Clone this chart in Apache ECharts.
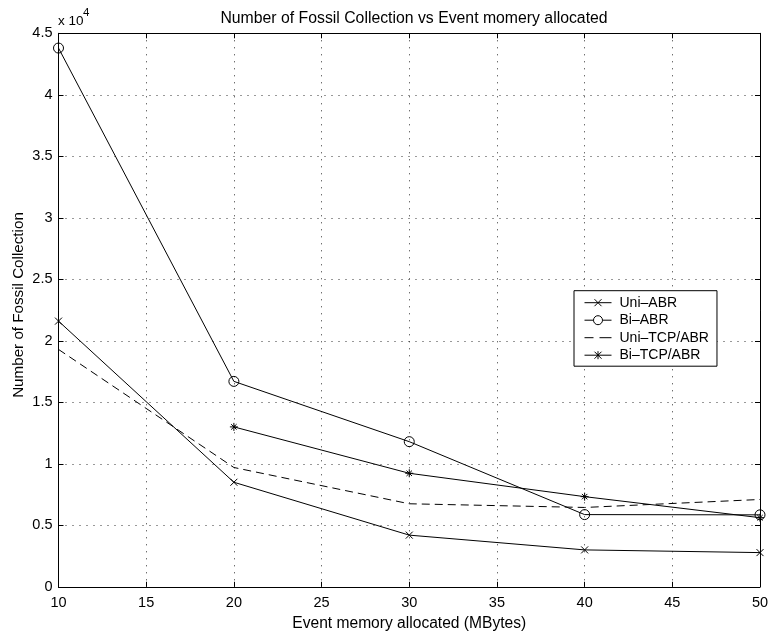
<!DOCTYPE html>
<html>
<head>
<meta charset="utf-8">
<script src="https://cdn.jsdelivr.net/npm/echarts@6/dist/echarts.min.js"></script>
<style>
  html, body { margin: 0; padding: 0; background: #fff; }
  #chart { width: 772px; height: 631px; }
</style>
</head>
<body>
<div id="chart"></div>
<script>
// Event memory allocated (MBytes)
const memory = [10, 20, 30, 40, 50];

// Number of fossil collections per configuration
const uniABR    = [21600, 8500, 4200, 3000, 2780];
const biABR     = [43800, 16700, 11800, 5870, 5850];
const uniTcpABR = [19300, 9700, 6750, 6450, 7100];
const biTcpABR  = [null, 13000, 9230, 7330, 5620];

const seriesNames = ['Uni–ABR', 'Bi–ABR', 'Uni–TCP/ABR', 'Bi–TCP/ABR'];

const xTicks = [10, 15, 20, 25, 30, 35, 40, 45, 50];
const yTicks = [0, 0.5, 1, 1.5, 2, 2.5, 3, 3.5, 4, 4.5]; // in units of 10^4

const FONT = 'Liberation Sans, Arial, Helvetica, sans-serif';

// Marker shapes (stroked outlines)
const crossSymbol = 'path://M0,0L10,10M10,0L0,10';
const starSymbol  = 'path://M5,0L5,10M0,5L10,5M1.6,1.6L8.4,8.4M8.4,1.6L1.6,8.4';

// Legend keys: a 27x9 box (leading moves fix the bounds), line sample plus marker
const legendIcons = [
  'path://M0,0M27,9M0,4.5L27,4.5M10,1L17,8M17,1L10,8',
  'path://M0,0M27,9M0,4.5L9,4.5M18,4.5L27,4.5M9,4.5A4.5,4.5,0,1,1,18,4.5A4.5,4.5,0,1,1,9,4.5',
  'path://M0,0M27,9M0,4.5L9,4.5M15,4.5L27,4.5',
  'path://M0,0M27,9M0,4.5L27,4.5M13.5,0.5L13.5,8.5M10,1L17,8M17,1L10,8'
];

function pairs(ys) {
  return memory.map((x, i) => [x, ys[i]]).filter(p => p[1] !== null);
}

const gridLine = { show: true, lineStyle: { color: '#333', width: 1, type: [1, 6] } };
const axisLine = { show: true, onZero: false, lineStyle: { color: '#000', width: 1 } };
const tickIn   = { show: true, inside: true, length: 5, lineStyle: { color: '#000' } };
const strokeOnly = { color: 'none', borderColor: '#000', borderWidth: 1, borderType: 'solid' };

const chart = echarts.init(document.getElementById('chart'), null, { renderer: 'canvas' });

chart.setOption({
  animation: false,
  backgroundColor: '#fff',
  textStyle: { fontFamily: FONT },
  title: {
    text: 'Number of Fossil Collection vs Event momery allocated',
    left: 409, top: 6, textAlign: 'center',
    textStyle: { fontFamily: FONT, fontSize: 15.8, fontWeight: 'normal', color: '#000' }
  },
  grid: { left: 58.5, right: 12, top: 33.3, bottom: 44.2, outerBoundsMode: 'none', containLabel: false },
  xAxis: [{
    type: 'value', min: xTicks[0], max: xTicks[xTicks.length - 1], interval: 5,
    name: 'Event memory allocated (MBytes)', nameLocation: 'middle', nameGap: 23,
    nameTextStyle: { fontFamily: FONT, fontSize: 15.6, color: '#000' },
    axisLine: axisLine, axisTick: tickIn, splitLine: gridLine,
    axisLabel: { fontFamily: FONT, fontSize: 14.5, color: '#000', margin: 9 }
  }, {
    type: 'value', position: 'top', min: xTicks[0], max: xTicks[xTicks.length - 1], interval: 5,
    axisLine: axisLine, axisTick: tickIn, splitLine: { show: false }, axisLabel: { show: false }
  }],
  yAxis: [{
    type: 'value', min: yTicks[0] * 1e4, max: yTicks[yTicks.length - 1] * 1e4, interval: 5000,
    axisLine: axisLine, axisTick: tickIn, splitLine: gridLine,
    axisLabel: { fontFamily: FONT, fontSize: 14.5, color: '#000', margin: 6,
      formatter: v => String(Math.round(v / 1000) / 10) }
  }, {
    type: 'value', position: 'right', min: yTicks[0] * 1e4, max: yTicks[yTicks.length - 1] * 1e4, interval: 5000,
    axisLine: axisLine, axisTick: tickIn, splitLine: { show: false }, axisLabel: { show: false }
  }],
  legend: {
    orient: 'vertical', left: 574, top: 290.7,
    backgroundColor: '#fff', borderColor: '#000', borderWidth: 1, borderRadius: 0,
    padding: [5, 8, 4, 8], itemGap: 3.5, itemWidth: 27, itemHeight: 9,
    symbolKeepAspect: true,
    textStyle: { fontFamily: FONT, fontSize: 14, color: '#000', padding: [0, 0, 0, 3] },
    data: seriesNames.map((name, i) => ({ name: name, icon: legendIcons[i], itemStyle: strokeOnly }))
  },
  graphic: [{
    type: 'text', x: 19, y: 305, rotation: Math.PI / 2,
    style: { text: 'Number of Fossil Collection', fontFamily: FONT, fontSize: 15.2, fill: '#000',
      align: 'center', verticalAlign: 'middle' }
  }, {
    type: 'text', x: 58, y: 21.5,
    style: { text: 'x 10', fontFamily: FONT, fontSize: 13.5, fill: '#000', verticalAlign: 'middle' }
  }, {
    type: 'text', x: 83, y: 13,
    style: { text: '4', fontFamily: FONT, fontSize: 11.5, fill: '#000', verticalAlign: 'middle' }
  }],
  series: [{
    name: seriesNames[0], type: 'line', data: pairs(uniABR),
    symbol: crossSymbol, symbolSize: 7,
    lineStyle: { color: '#000', width: 1 },
    itemStyle: { color: 'transparent', borderColor: '#000', borderWidth: 1 }
  }, {
    name: seriesNames[1], type: 'line', data: pairs(biABR),
    symbol: 'circle', symbolSize: 10,
    lineStyle: { color: '#000', width: 1 },
    itemStyle: { color: 'transparent', borderColor: '#000', borderWidth: 1 }
  }, {
    name: seriesNames[2], type: 'line', data: pairs(uniTcpABR),
    symbol: 'none', showSymbol: false,
    lineStyle: { color: '#000', width: 1, type: [8, 5] },
    itemStyle: { color: '#000' }
  }, {
    name: seriesNames[3], type: 'line', data: pairs(biTcpABR),
    symbol: starSymbol, symbolSize: 8,
    lineStyle: { color: '#000', width: 1 },
    itemStyle: { color: 'transparent', borderColor: '#000', borderWidth: 1 }
  }]
});
</script>
</body>
</html>
